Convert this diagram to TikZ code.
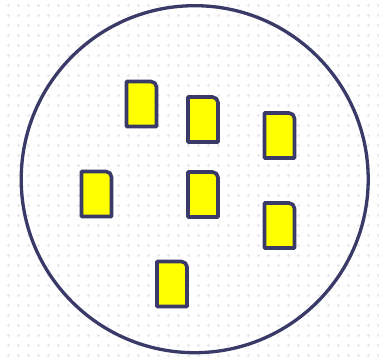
\documentclass[tikz,border=0pt]{standalone}
\definecolor{navy}{RGB}{58,58,104}
\definecolor{dotgray}{RGB}{232,232,235}
\definecolor{cardyellow}{RGB}{255,255,0}
\begin{document}
\begin{tikzpicture}[x=1pt,y=1pt,
  cardstyle/.style={draw=navy, fill=cardyellow, line width=3.6pt, line join=round},
  ringstyle/.style={draw=navy, line width=3.3pt},
  card/.pic={\draw[cardstyle] (-15,-22.5) -- (-15,22.5) -- (9.5,22.5)
      arc[start angle=90,end angle=0,radius=5.5pt] -- (15,-22.5) -- cycle;}]
\useasboundingbox (0,0) rectangle (379,358);
\fill[white] (0,0) rectangle (379,358);
\foreach \i in {0,...,37}{
  \foreach \j in {0,...,35}{
    \fill[dotgray] (8.5+10*\i, 352.5-10*\j) circle[radius=1.7pt];
  }
}
\coordinate (ringc) at (194.7,178.8);
\draw[ringstyle] (ringc) circle[radius=173.5pt];
\coordinate (A) at (141.5,254);
\coordinate (B) at (203,238.5);
\coordinate (C) at (279.5,222.5);
\coordinate (D) at (96.5,164);
\coordinate (E) at (203,163.5);
\coordinate (F) at (279.5,132.5);
\coordinate (G) at (172,74);
\foreach \p in {A,B,C,D,E,F,G}{
  \pic at (\p) {card};
}
\end{tikzpicture}
\end{document}
